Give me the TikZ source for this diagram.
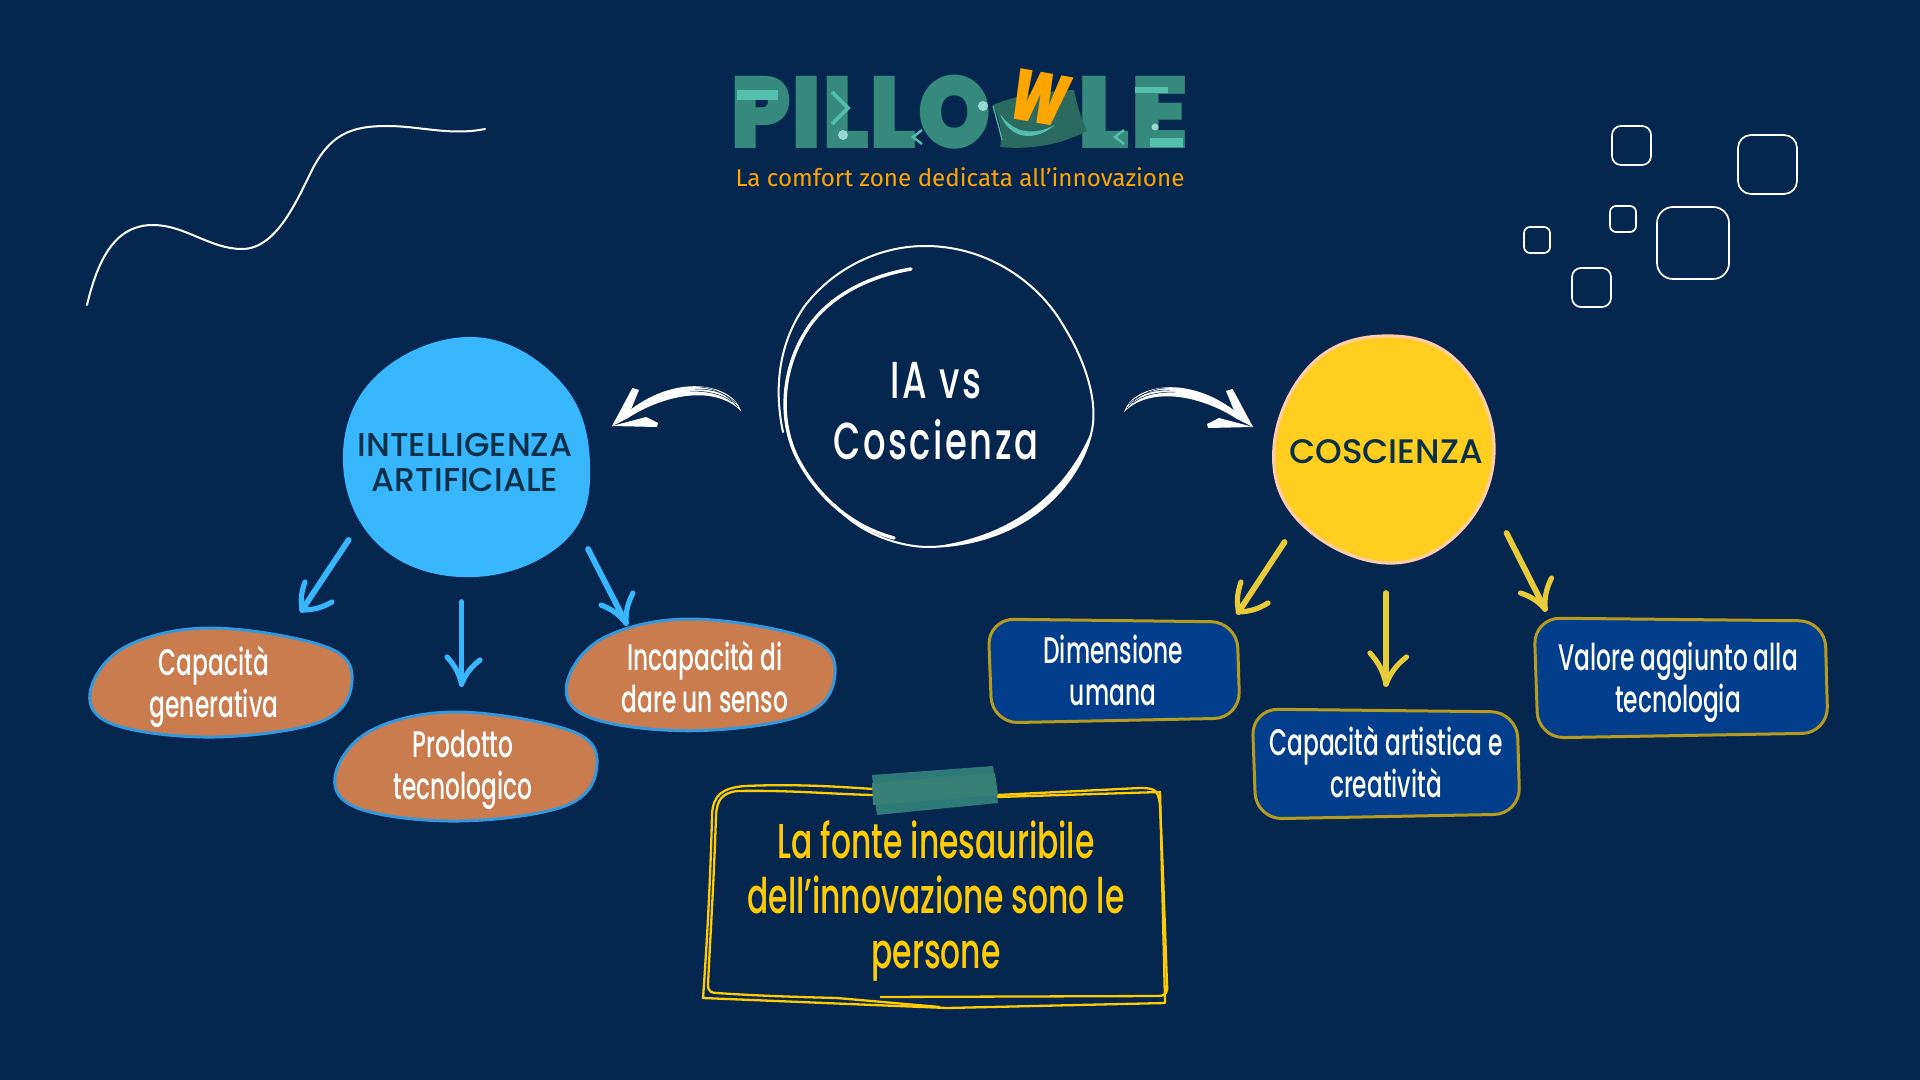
\documentclass[tikz,border=0pt]{standalone}
\usepackage{fontspec}
\setmainfont{Poppins}
\newfontfamily\handfont[FakeStretch=0.63,UprightFont=* Medium]{Poppins}
\newfontfamily\notefont[FakeStretch=0.64,UprightFont=* Medium]{Poppins}
\newfontfamily\capsfont[FakeStretch=1.0,UprightFont=* Medium]{Poppins}
\newfontfamily\titlefont[FakeStretch=0.68,LetterSpace=5,UprightFont=* Medium]{Poppins}
\newfontfamily\logofont[FakeStretch=0.925,UprightFont=* Black]{Poppins}
\newfontfamily\logofontb[FakeStretch=1.03,UprightFont=* Black]{Poppins}
\newfontfamily\wfont[FakeStretch=0.72,UprightFont=* Black]{Poppins}
\newfontfamily\tagfont{Fira Sans}
\definecolor{bg}{HTML}{04264F}
\definecolor{iablue}{HTML}{38B6FF}
\definecolor{cyel}{HTML}{FFCE1F}
\definecolor{cpeach}{HTML}{FFCBA8}
\definecolor{ovalfill}{HTML}{CB7C4F}
\definecolor{ovalline}{HTML}{3498DB}
\definecolor{boxfill}{HTML}{033E8C}
\definecolor{boxline}{HTML}{B59B20}
\definecolor{arrowyel}{HTML}{E8CB38}
\definecolor{notecol}{HTML}{FFCB05}
\definecolor{capsink}{HTML}{0A3048}
\definecolor{logoteal}{HTML}{36897D}
\definecolor{logolight}{HTML}{55BFAE}
\definecolor{pillow}{HTML}{2A6A5F}
\definecolor{orangew}{HTML}{FFA500}
\definecolor{tapeA}{HTML}{2E7A78}
\definecolor{tapeB}{HTML}{377F74}
\tikzset{
  whiteline/.style={draw=white,line width=0.85pt,rounded corners=#1},
  lab/.style={text=white,align=center,inner sep=0pt,font=\handfont\fontsize{18.5}{21}\selectfont},
  capslab/.style={text=capsink,align=center,inner sep=0pt,font=\capsfont\fontsize{16.5}{17.5}\selectfont},
  ovalblob/.style={fill=ovalfill,draw=ovalline,line width=1.5pt},
  bluebox/.style={fill=boxfill,draw=boxline,line width=1.5pt,rounded corners=13pt},
  shaft/.style={line width=2.9pt,line cap=round},
  barb/.style={line width=2.6pt,line cap=round},
  notestroke/.style={draw=notecol,line width=1.15pt,line join=round},
}
% start, tip, barb a, barb b, colour
\newcommand{\handarrow}[5]{%
  \draw[shaft,#5] (#1) -- (#2);
  \draw[barb,#5] (#3) to[bend right=14] (#2);
  \draw[barb,#5] (#4) to[bend left=14] (#2);
}
\newcommand{\wobblebox}[4]{%
  \draw[bluebox] (#1,#2) -- (#3-3,#2+3) -- (#3,#4-5) -- (#1+4,#4) -- cycle;
}
\newcommand{\ovalshape}{plot[smooth cycle,tension=0.62] coordinates {(212,628) (329,648) (351.6,685) (320,722) (214,737) (115,725) (90,693) (125,647)}}
\newcommand{\brusharrow}{%
  \fill[white] (741,411) .. controls (733,385) and (680,372) .. (630,410) -- (612,426) -- (628,418) .. controls (665,394) and (715,385) .. (741,411) -- cycle;
  \fill[white] (612,426) -- (632.4,388) -- (639,390) -- (628,417) -- cycle;
  \fill[white] (612,426) -- (646,417) -- (658,423) -- (657,427) -- cycle;
  \draw[bg,line width=0.25pt] (736,403) .. controls (725,392) and (712,389) .. (695,389);
  \draw[bg,line width=0.25pt] (732,402) .. controls (722,394) and (708,391) .. (690,391);
  \draw[bg,line width=0.25pt] (738,407) .. controls (728,395) and (715,388) .. (700,387);
}
\begin{document}
\begin{tikzpicture}[x=0.5pt,y=-0.5pt]
\useasboundingbox (0,0) rectangle (1920,1080);
\fill[bg] (0,0) rectangle (1920,1080);

% squiggle
\draw[white,line width=1pt,line cap=round] (87,305) .. controls (100,250) and (120,225) .. (153,225) .. controls (185,225) and (210,249) .. (242,249) .. controls (275,249) and (295,205) .. (312,170) .. controls (330,135) and (350,126) .. (387,126) .. controls (420,126) and (450,136) .. (485,129);

% squares
\draw[whiteline=4.5pt] (1612,126) rectangle (1651,165);
\draw[whiteline=6.5pt] (1738,135) rectangle (1797,194);
\draw[whiteline=3pt] (1610,206) rectangle (1636,232);
\draw[whiteline=8pt] (1657,207) rectangle (1729,279);
\draw[whiteline=3pt] (1524,227) rectangle (1550,253);
\draw[whiteline=4.5pt] (1572,268) rectangle (1611,307);

% logo
\node[text=logoteal,inner sep=0pt,anchor=base west,font=\logofont\fontsize{51}{51}\selectfont] (pillo) at (730,149) {PILLO};
\node[text=logoteal,inner sep=0pt,anchor=base west,font=\logofontb\fontsize{51}{51}\selectfont] (le) at (1077,149) {LE};
\fill[pillow] (993,105) .. controls (1010,98) and (1030,92) .. (1074,90) .. controls (1078,110) and (1082,120) .. (1087,131) .. controls (1060,145) and (1030,150) .. (1000,147) .. controls (1003,135) and (1000,120) .. (993,105) -- cycle;
\fill[logolight] (1000,114) .. controls (1015,135) and (1035,135) .. (1055,125) .. controls (1035,142) and (1010,140) .. (1000,114) -- cycle;
\draw[logolight,line width=0.6pt] (993,106) .. controls (997,120) and (999,128) .. (1002,140);
\fill[logolight] (737,90) rectangle (778,100);
\draw[logolight,line width=1.8pt] (832,92) -- (848,108) -- (832,124);
\fill[logolight!60!white] (843,135) circle (5);
\fill[logolight!60!white] (983,106) circle (5);
\fill[logolight] (1135,87) rectangle (1168,93);
\fill[logolight] (1150,138) rectangle (1183,147);
\fill[logolight!60!white] (1155,127) circle (3.5);
\draw[logolight,line width=1.2pt] (922,130) -- (913,137) -- (922,144);
\draw[logolight,line width=1.2pt] (1124,130) -- (1115,137) -- (1124,144);
\node[text=orangew,inner sep=0pt,rotate=-10,xslant=0.12,font=\wfont\fontsize{36}{36}\selectfont] (wletter) at (1040,98) {W};
\node[text=orangew,inner sep=0pt,anchor=base,font=\tagfont\fontsize{12.1}{14}\selectfont] (tag) at (960,187) {La comfort zone dedicata all’innovazione};

% central circle
\draw[white,line width=1.7pt,line cap=round] (911,269) .. controls (870,276) and (830,295) .. (808,328) .. controls (780,370) and (778,425) .. (800,463) .. controls (815,490) and (845,525) .. (894,538);
\draw[white,line width=1pt,line cap=round] (783,432) .. controls (774,390) and (778,345) .. (804,307) .. controls (830,272) and (875,246) .. (925,246) .. controls (990,246) and (1040,285) .. (1063,325) .. controls (1085,360) and (1098,400) .. (1092,430) .. controls (1082,480) and (1030,545) .. (929,547) .. controls (895,547) and (855,530) .. (835,505);
\fill[white] (1092,430) .. controls (1082,480) and (1030,545) .. (929,547) .. controls (1010,538) and (1065,495) .. (1092,430) -- cycle;
\node[text=white,align=center,inner sep=0pt,font=\titlefont\fontsize{26}{30.5}\selectfont] (center) at (936,411) {IA vs\\Coscienza};

% brush arrows
\brusharrow
\begin{scope}[shift={(1865,1)},xscale=-1]
\brusharrow
\end{scope}

% blue circle
\fill[iablue] plot[smooth cycle,tension=0.68] coordinates {(473,337) (560,381) (590,463) (566,540) (475,577) (382,548) (343,463) (376,376)};
\node[capslab] (ia) at (465,462) {INTELLIGENZA\\ARTIFICIALE};

% yellow circle
\filldraw[fill=cyel,draw=cpeach,line width=1.6pt] plot[smooth cycle,tension=0.68] coordinates {(1388,336) (1459,363) (1494,445) (1464,527) (1388,563) (1301,523) (1274,447) (1313,363)};
\node[capslab,font=\capsfont\fontsize{17}{18}\selectfont] (cos) at (1386,452) {COSCIENZA};

% ovals
\draw[ovalblob] \ovalshape;
\draw[ovalblob,shift={(245,84)}] \ovalshape;
\begin{scope}[shift={(566.5,619)},scale=1.025,shift={(-90,-628)}]
\draw[ovalblob] \ovalshape;
\end{scope}
\node[lab] (o1) at (214,687) {Capacità\\generativa};
\node[lab] (o2) at (463,770) {Prodotto\\tecnologico};
\node[lab] (o3) at (705,677) {Incapacità di\\dare un senso};

% blue boxes
\wobblebox{988}{619}{1240}{723}
\wobblebox{1252}{709}{1520}{819}
\wobblebox{1534}{618}{1828}{738}
\node[lab] (b1) at (1113,670) {Dimensione\\umana};
\node[lab] (b2) at (1386,762) {Capacità artistica e\\creatività};
\node[lab] (b3) at (1678,682) {Valore aggiunto alla\\tecnologia};

% blue arrows
\coordinate (a1s) at (348.6,540); \coordinate (a1t) at (302,610); \coordinate (a1l) at (305,582); \coordinate (a1r) at (332,602);
\coordinate (a2s) at (461.5,602); \coordinate (a2t) at (461.5,684); \coordinate (a2l) at (447,657); \coordinate (a2r) at (480,660);
\coordinate (a3s) at (588,549); \coordinate (a3t) at (626,623); \coordinate (a3l) at (601,605); \coordinate (a3r) at (633,593);
\handarrow{a1s}{a1t}{a1l}{a1r}{iablue}
\handarrow{a2s}{a2t}{a2r}{a2l}{iablue}
\handarrow{a3s}{a3t}{a3r}{a3l}{iablue}

% yellow arrows
\coordinate (y1s) at (1284.6,542); \coordinate (y1t) at (1238.5,612); \coordinate (y1l) at (1241,582); \coordinate (y1r) at (1268,603);
\coordinate (y2s) at (1386,593); \coordinate (y2t) at (1386,684); \coordinate (y2l) at (1370,653); \coordinate (y2r) at (1406.5,657);
\coordinate (y3s) at (1506.5,533); \coordinate (y3t) at (1545,609); \coordinate (y3l) at (1520.5,593); \coordinate (y3r) at (1551.5,578);
\handarrow{y1s}{y1t}{y1l}{y1r}{arrowyel}
\handarrow{y2s}{y2t}{y2r}{y2l}{arrowyel}
\handarrow{y3s}{y3t}{y3r}{y3l}{arrowyel}

% note box
\draw[notestroke] (873,789) .. controls (830,786) and (790,784) .. (745,786) .. controls (722,788) and (713,795) .. (712,815) .. controls (711,860) and (708,930) .. (703,998) -- (947,1008) -- (1165,1003) -- (1160,792) -- (997,797);
\draw[notestroke] (873,795) .. controls (830,794) and (790,790) .. (737,791) .. controls (722,793) and (717,800) .. (716,815) .. controls (714,880) and (710,940) .. (708,985) .. controls (708,992) and (712,993) .. (717,993) .. controls (760,996) and (800,997) .. (837,998) -- (940,1007);
\draw[notestroke] (880,997) -- (1158,996) .. controls (1166,996) and (1168,992) .. (1167,985) .. controls (1165,930) and (1163,870) .. (1160,805) .. controls (1158,790) and (1155,788) .. (1140,788) -- (997,795);
\fill[tapeA] (872,775) -- (993,766) -- (995,780) -- (998,803) -- (877,815) -- (874,795) -- cycle;
\fill[tapeB] (872,783) -- (995,773) -- (998,795) -- (873,805) -- cycle;
\node[text=notecol,align=center,inner sep=0pt,font=\notefont\fontsize{24.5}{27.5}\selectfont] (note) at (936,901) {La fonte inesauribile\\dell’innovazione sono le\\persone};
\end{tikzpicture}
\end{document}
